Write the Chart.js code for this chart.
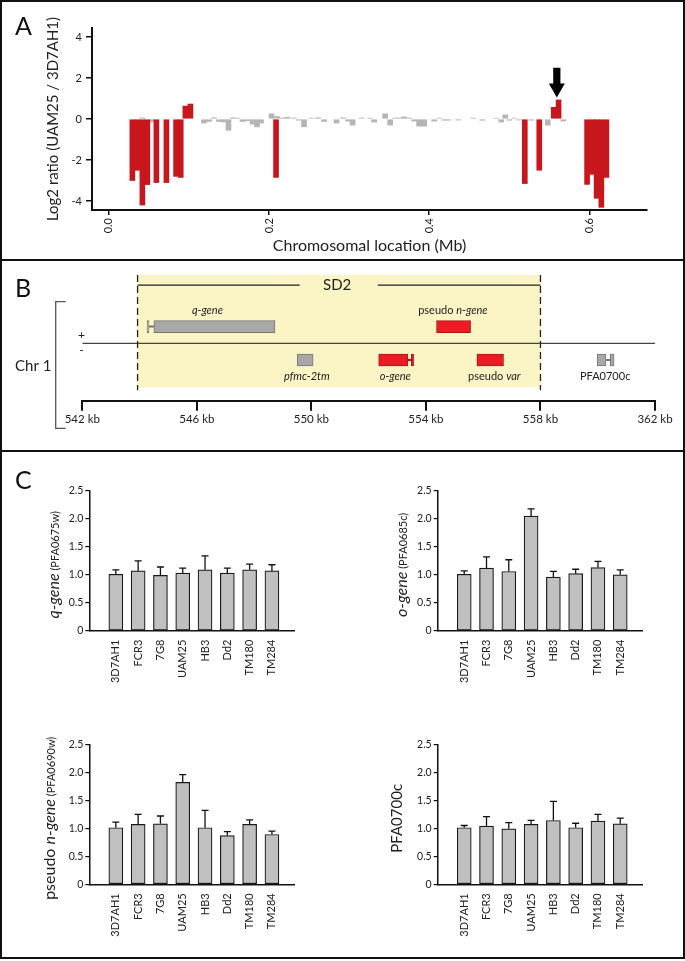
<!DOCTYPE html>
<html>
<head>
<meta charset="utf-8">
<script src="https://cdn.jsdelivr.net/npm/chart.js@4.4.1/dist/chart.umd.min.js"></script>
<style>
  html, body { margin: 0; padding: 0; background: #fff; }
  #fig { position: relative; width: 685px; height: 961px; overflow: hidden; background: #fff; }
  canvas { position: absolute; }
  .frame { position: absolute; left: 0; top: 0; width: 685px; height: 959px; box-sizing: border-box; border: 2.5px solid #111; pointer-events: none; }
  .sep { position: absolute; left: 0; width: 685px; height: 2px; background: #111; }
</style>
</head>
<body>
<div id="fig">
  <canvas id="chartA" width="685" height="259" style="left:0;top:0"></canvas>
  <canvas id="chartB" width="685" height="190" style="left:0;top:260px"></canvas>
  <canvas id="chartC1" width="342" height="245" style="left:0;top:455px"></canvas>
  <canvas id="chartC2" width="343" height="245" style="left:342px;top:455px"></canvas>
  <canvas id="chartC3" width="342" height="250" style="left:0;top:705px"></canvas>
  <canvas id="chartC4" width="343" height="250" style="left:342px;top:705px"></canvas>
  <div class="sep" style="top:259px"></div>
  <div class="sep" style="top:450px"></div>
  <div class="frame"></div>
</div>
<script>
// ---- Panel A: log2 ratio per probe (location in Mb) ----
const grayLoc = [0.0419, 0.0538, 0.1188, 0.1250, 0.1313, 0.1375, 0.1438, 0.1494, 0.1550, 0.1606,
  0.1669, 0.1731, 0.1794, 0.1850, 0.1900, 0.2031, 0.2100, 0.2169, 0.2231, 0.2313,
  0.2375, 0.2438, 0.2525, 0.2613, 0.2688, 0.2844, 0.2925, 0.2988, 0.3044, 0.3156,
  0.3263, 0.3313, 0.3450, 0.3513, 0.3575, 0.3638, 0.3688, 0.3750, 0.3813, 0.3875,
  0.3938, 0.4063, 0.4125, 0.4188, 0.4238, 0.4363, 0.4550, 0.4663, 0.4838, 0.4900,
  0.4950, 0.5000, 0.5063, 0.5125, 0.5275, 0.5481, 0.5675];
const grayRatio = [0.06, -0.15, -0.2, -0.12, 0.06, -0.12, -0.15, -0.55, 0.06, 0.04,
  -0.12, -0.08, -0.25, -0.38, -0.2, 0.25, 0.12, 0.05, 0.08, 0.05,
  -0.06, -0.38, 0.04, 0.06, -0.12, -0.2, 0.06, -0.1, -0.3, 0.05,
  0.04, -0.15, 0.25, -0.3, 0.05, 0.05, 0.1, 0.05, -0.1, -0.35,
  -0.35, -0.1, 0.04, -0.06, -0.06, -0.05, 0.04, -0.06, 0.04, -0.15,
  0.2, -0.06, 0.04, -0.05, -0.06, -0.3, -0.1];
const redLoc = [0.0294, 0.0356, 0.0419, 0.0481, 0.0594, 0.0719, 0.0840, 0.0898, 0.0956, 0.1019,
  0.2088, 0.5194, 0.5375, 0.5556, 0.5616, 0.5972, 0.6034, 0.6091, 0.6150, 0.6213];
const redRatio = [-3.0, -2.5, -4.2, -3.2, -3.1, -3.1, -2.8, -2.85, 0.63, 0.73,
  -2.85, -3.15, -2.5, 0.57, 0.93, -3.19, -2.7, -3.87, -4.31, -2.85];
const xTicksA = [0, 0.2, 0.4, 0.6];
const xLabelsA = ['0.0', '0.2', '0.4', '0.6'];
const yTicksA = [-4, -2, 0, 2, 4];
const arrowLoc = 0.5594;

// ---- Panel B: gene map (kb) ----
const bTicks = [542, 546, 550, 554, 558, 562];
const bTickLabels = ['542 kb', '546 kb', '550 kb', '554 kb', '558 kb', '362 kb'];
const sd2Start = 543.93;
const sd2End = 558.0;
const sd2Gap = [549.59, 552.32];
const sd2LabelAt = 550.9;
const geneStart = [544.50, 549.51, 552.35, 554.37, 555.78, 559.98];
const geneEnd = [548.73, 550.06, 553.37, 555.56, 556.71, 560.29];
const geneStrand = [1, -1, -1, 1, -1, -1];
const geneDup = [false, false, true, true, true, false];
const geneLabelAt = [546.37, 549.84, 552.93, 554.94, 556.39, 560.26];
const geneLabels = [
  [['q-gene', 1]],
  [['pfmc-2tm', 1]],
  [['o-gene', 1]],
  [['pseudo ', 0], ['n-gene', 1]],
  [['pseudo ', 0], ['var', 1]],
  [['PFA0700c', 0]]
];
const capStart = [544.26, 553.49, 560.44];
const capEnd = [544.33, 553.57, 560.57];
const linkStart = [544.33, 553.37, 560.29];
const linkEnd = [544.50, 553.49, 560.44];
const capStrand = [1, -1, -1];
const capDup = [false, true, false];

// ---- Panel C: relative copy number per strain ----
const strains = ['3D7AH1', 'FCR3', '7G8', 'UAM25', 'HB3', 'Dd2', 'TM180', 'TM284'];
const yTicksC = [0, 0.5, 1.0, 1.5, 2.0, 2.5];
const yLabelsC = ['0', '0.5', '1.0', '1.5', '2.0', '2.5'];
const qGene = [1.01, 1.07, 0.99, 1.03, 1.09, 1.03, 1.09, 1.07];
const qGeneErr = [0.08, 0.18, 0.15, 0.09, 0.25, 0.09, 0.10, 0.11];
const oGene = [1.01, 1.12, 1.06, 2.05, 0.96, 1.02, 1.13, 1.00];
const oGeneErr = [0.06, 0.20, 0.21, 0.13, 0.10, 0.08, 0.11, 0.09];
const nGene = [1.01, 1.07, 1.08, 1.82, 1.01, 0.87, 1.07, 0.89];
const nGeneErr = [0.10, 0.18, 0.14, 0.14, 0.31, 0.07, 0.08, 0.06];
const pfa0700c = [1.01, 1.04, 0.99, 1.07, 1.14, 1.01, 1.13, 1.08];
const pfa0700cErr = [0.04, 0.17, 0.11, 0.07, 0.34, 0.08, 0.12, 0.10];

const FONT = 'Lato, "Noto Sans", sans-serif';
Chart.defaults.font.family = FONT;
Chart.defaults.color = '#222';
Chart.defaults.animation = false;
Chart.defaults.plugins.legend.display = false;
Chart.defaults.plugins.tooltip.enabled = false;

// draw a run of text pieces (plain / italic, own size) centred on x,y
function drawRich(ctx, parts, x, y, size, rotate) {
  ctx.save();
  ctx.translate(x, y);
  if (rotate) ctx.rotate(-Math.PI / 2);
  ctx.fillStyle = '#222';
  ctx.textBaseline = 'alphabetic';
  ctx.textAlign = 'left';
  const fonts = parts.map(p => (p[1] ? 'italic ' : '') + (p[2] || size) + 'px ' + FONT);
  const widths = parts.map((p, i) => { ctx.font = fonts[i]; return ctx.measureText(p[0]).width; });
  let cx = -widths.reduce((a, b) => a + b, 0) / 2;
  parts.forEach((p, i) => {
    ctx.font = fonts[i];
    ctx.fillText(p[0], cx, size * 0.36);
    cx += widths[i];
  });
  ctx.restore();
}

function panelLetter(ctx, letter, x, y) {
  ctx.save();
  ctx.font = '25px ' + FONT;
  ctx.fillStyle = '#111';
  ctx.fillText(letter, x, y);
  ctx.restore();
}

// ---------- Panel A ----------
const arrowPlugin = {
  id: 'arrow',
  afterDatasetsDraw(chart) {
    const ctx = chart.ctx;
    const x = chart.scales.x.getPixelForValue(arrowLoc);
    const yTip = chart.scales.y.getPixelForValue(1.05);
    const yTail = chart.scales.y.getPixelForValue(2.5);
    ctx.save();
    ctx.fillStyle = '#000';
    ctx.fillRect(x - 3.6, yTail, 7.2, yTip - yTail - 12);
    ctx.beginPath();
    ctx.moveTo(x - 8, yTip - 14);
    ctx.lineTo(x + 8, yTip - 14);
    ctx.lineTo(x, yTip);
    ctx.closePath();
    ctx.fill();
    ctx.restore();
    panelLetter(ctx, 'A', 15, 35);
  }
};

new Chart(document.getElementById('chartA'), {
  type: 'bar',
  data: {
    datasets: [
      {
        data: grayLoc.map((x, i) => ({ x: x, y: grayRatio[i] })),
        backgroundColor: '#b5b5b5',
        barThickness: 5,
        grouped: false,
        order: 2
      },
      {
        data: redLoc.map((x, i) => ({ x: x, y: redRatio[i] })),
        backgroundColor: '#c8161d',
        barThickness: 5,
        grouped: false,
        order: 1
      }
    ]
  },
  options: {
    responsive: false,
    layout: { padding: { left: 0, top: 28, right: 38, bottom: 0 } },
    scales: {
      x: {
        type: 'linear',
        min: -0.021,
        max: 0.672,
        offset: false,
        grid: { drawOnChartArea: false, drawTicks: true, tickLength: 5, color: '#111', lineWidth: 1.5, offset: false },
        border: { display: true, color: '#111', width: 2 },
        afterBuildTicks: s => { s.ticks = xTicksA.map(v => ({ value: v })); },
        afterFit: s => { s.height = 49; },
        ticks: { autoSkip: false, minRotation: 90, maxRotation: 90, padding: 3, font: { size: 11 },
          callback: (v, i) => xLabelsA[i] },
        title: { display: true, text: 'Chromosomal location (Mb)', font: { size: 16 }, color: '#222',
          padding: { top: 0, bottom: 4 } }
      },
      y: {
        type: 'linear',
        min: -4.44,
        max: 4.44,
        beginAtZero: false,
        grid: { drawOnChartArea: false, drawTicks: true, tickLength: 6, color: '#111', lineWidth: 1.5 },
        border: { display: true, color: '#111', width: 2 },
        afterBuildTicks: s => { s.ticks = yTicksA.map(v => ({ value: v })); },
        afterFit: s => { s.width = 92; },
        ticks: { padding: 4, font: { size: 11 } },
        title: { display: true, text: 'Log2 ratio (UAM25 / 3D7AH1)', font: { size: 15 }, color: '#222',
          padding: { top: 44, bottom: 0 } }
      }
    }
  },
  plugins: [arrowPlugin]
});

// ---------- Panel B ----------
const RED_B = '#ec1c24';
const GRAY_B = '#a8a8a8';

const mapPlugin = {
  id: 'genemap',
  afterDatasetsDraw(chart) {
    const ctx = chart.ctx;
    const xs = chart.scales.x, ys = chart.scales.y;
    geneLabels.forEach((parts, i) => {
      const level = geneStrand[i] > 0 ? 2.0 : -1.95;
      drawRich(ctx, parts, xs.getPixelForValue(geneLabelAt[i]), ys.getPixelForValue(level), 11, false);
    });
    drawRich(ctx, [['SD2', 0]], xs.getPixelForValue(sd2LabelAt), ys.getPixelForValue(3.48), 15, false);
  },
  afterDraw(chart) {
    const ctx = chart.ctx;
    panelLetter(ctx, 'B', 15, 37);
    ctx.save();
    ctx.strokeStyle = '#555';
    ctx.lineWidth = 1.3;
    ctx.beginPath();
    ctx.moveTo(65.7, 41.7); ctx.lineTo(55.7, 41.7); ctx.lineTo(55.7, 168.3); ctx.lineTo(65.7, 168.3);
    ctx.stroke();
    ctx.fillStyle = '#222';
    ctx.font = '15px ' + FONT;
    ctx.fillText('Chr 1', 15, 110.5);
    ctx.font = '12px ' + FONT;
    ctx.textAlign = 'center';
    ctx.textBaseline = 'middle';
    ctx.fillText('+', 81.5, 74.7);
    ctx.fillText('-', 81.5, 90.5);
    ctx.restore();
  }
};

function lineSet(points, dash, order) {
  return {
    type: 'line',
    data: points,
    borderColor: '#222',
    borderWidth: dash ? 1.3 : 1.2,
    borderDash: dash || [],
    pointRadius: 0,
    fill: false,
    tension: 0,
    order: order
  };
}

new Chart(document.getElementById('chartB'), {
  type: 'bar',
  data: {
    datasets: [
      {
        indexAxis: 'y',
        data: [{ y: 0.725, x: [sd2Start, sd2End] }],
        backgroundColor: '#fbf4c4',
        barThickness: 112,
        grouped: false,
        order: 10
      },
      Object.assign(lineSet([{ x: 542, y: 0 }, { x: 562, y: 0 }], null, 6), { borderColor: '#444' }),
      lineSet([{ x: sd2Start, y: 4.08 }, { x: sd2Start, y: -2.8 }], [7, 4], 5),
      lineSet([{ x: sd2End, y: 4.08 }, { x: sd2End, y: -2.8 }], [7, 4], 5),
      lineSet([{ x: sd2Start, y: 3.48 }, { x: sd2Gap[0], y: 3.48 }], null, 5),
      lineSet([{ x: sd2Gap[1], y: 3.48 }, { x: sd2End, y: 3.48 }], null, 5),
      {
        indexAxis: 'y',
        data: linkStart.map((s, i) => ({ y: capStrand[i], x: [s, linkEnd[i]] })),
        backgroundColor: capDup.map(d => d ? '#b0141a' : '#777'),
        barThickness: 1.2,
        grouped: false,
        order: 3
      },
      {
        indexAxis: 'y',
        data: capStart.map((s, i) => ({ y: capStrand[i], x: [s, capEnd[i]] })),
        backgroundColor: capDup.map(d => d ? RED_B : GRAY_B),
        borderColor: capDup.map(d => d ? '#b0141a' : '#777'),
        borderWidth: 1,
        borderSkipped: false,
        barThickness: 12,
        grouped: false,
        order: 2
      },
      {
        indexAxis: 'y',
        data: geneStart.map((s, i) => ({ y: geneStrand[i], x: [s, geneEnd[i]] })),
        backgroundColor: geneDup.map(d => d ? RED_B : GRAY_B),
        borderColor: geneDup.map(d => d ? '#b0141a' : '#777'),
        borderWidth: 1,
        borderSkipped: false,
        barThickness: 12,
        grouped: false,
        order: 1
      }
    ]
  },
  options: {
    responsive: false,
    layout: { padding: { left: 82.3, top: 15, right: 30, bottom: 0 } },
    scales: {
      x: {
        type: 'linear',
        min: 542,
        max: 562,
        offset: false,
        grid: { drawOnChartArea: false, drawTicks: true, tickLength: 10, color: '#111', lineWidth: 2, offset: false },
        border: { display: true, color: '#111', width: 2 },
        afterBuildTicks: s => { s.ticks = bTicks.map(v => ({ value: v })); },
        afterFit: s => { s.height = 49.3; },
        ticks: { autoSkip: false, maxRotation: 0, padding: 2, font: { size: 11.5 },
          callback: (v, i) => bTickLabels[i] }
      },
      y: {
        type: 'linear',
        display: false,
        min: -3.43,
        max: 4.08,
        offset: false,
        beginAtZero: false,
        grid: { offset: false }
      }
    }
  },
  plugins: [mapPlugin]
});

// ---------- Panel C ----------
function geneChart(id, values, errors, titleParts, g) {
  const errPlugin = {
    id: 'err' + id,
    afterDatasetsDraw(chart) {
      const ctx = chart.ctx;
      const ys = chart.scales.y;
      const meta = chart.getDatasetMeta(0);
      ctx.save();
      ctx.strokeStyle = '#111';
      ctx.lineWidth = 1.3;
      meta.data.forEach((bar, i) => {
        const yErr = ys.getPixelForValue(values[i] + errors[i]);
        ctx.beginPath();
        ctx.moveTo(bar.x, bar.y);
        ctx.lineTo(bar.x, yErr);
        ctx.moveTo(bar.x - 3.5, yErr);
        ctx.lineTo(bar.x + 3.5, yErr);
        ctx.stroke();
      });
      ctx.restore();
      const area = chart.chartArea;
      drawRich(ctx, titleParts, g.titleX, (area.top + area.bottom) / 2 + 4, 16, true);
      if (g.letter) panelLetter(ctx, g.letter, 15, 34);
    }
  };
  return new Chart(document.getElementById(id), {
    type: 'bar',
    data: {
      datasets: [{
        data: values.map((v, i) => ({ x: i, y: v })),
        backgroundColor: '#c0c0c0',
        borderColor: '#1a1a1a',
        borderWidth: 1.2,
        borderSkipped: false,
        barThickness: 14,
        grouped: false
      }]
    },
    options: {
      responsive: false,
      layout: { padding: { left: 0, top: g.padTop, right: g.padRight, bottom: 0 } },
      scales: {
        x: {
          type: 'linear',
          min: -1.19,
          max: 7.99,
          offset: false,
          grid: { drawOnChartArea: false, drawTicks: false, offset: false },
          border: { display: true, color: '#111', width: 1.5 },
          afterBuildTicks: s => { s.ticks = strains.map((n, i) => ({ value: i })); },
          afterFit: s => { s.height = g.xAxisH; },
          ticks: { autoSkip: false, minRotation: 90, maxRotation: 90, padding: 9, font: { size: 11 },
            callback: v => strains[v] }
        },
        y: {
          type: 'linear',
          min: 0,
          max: 2.5,
          grid: { drawOnChartArea: false, drawTicks: true, tickLength: 4, color: '#111', lineWidth: 1.2 },
          border: { display: true, color: '#111', width: 1.5 },
          afterBuildTicks: s => { s.ticks = yTicksC.map(v => ({ value: v })); },
          afterFit: s => { s.width = g.yAxisW; },
          ticks: { padding: 2, font: { size: 10.5 }, callback: (v, i) => yLabelsC[i] }
        }
      }
    },
    plugins: [errPlugin]
  });
}

geneChart('chartC1', qGene, qGeneErr, [['q-gene', 1], [' (PFA0675w)', 0, 11]],
  { yAxisW: 89.3, padRight: 48, padTop: 36, xAxisH: 69.3, titleX: 53.3, letter: 'C' });
geneChart('chartC2', oGene, oGeneErr, [['o-gene', 1], [' (PFA0685c)', 0, 11]],
  { yAxisW: 95.7, padRight: 42.7, padTop: 36, xAxisH: 69.3, titleX: 59.7 });
geneChart('chartC3', nGene, nGeneErr, [['pseudo ', 0], ['n-gene', 1], [' (PFA0690w)', 0, 11]],
  { yAxisW: 89.3, padRight: 48, padTop: 39.3, xAxisH: 70.7, titleX: 49.3 });
geneChart('chartC4', pfa0700c, pfa0700cErr, [['PFA0700c', 0, 15]],
  { yAxisW: 95.7, padRight: 42.7, padTop: 39.3, xAxisH: 70.7, titleX: 54.7 });
</script>
</body>
</html>
